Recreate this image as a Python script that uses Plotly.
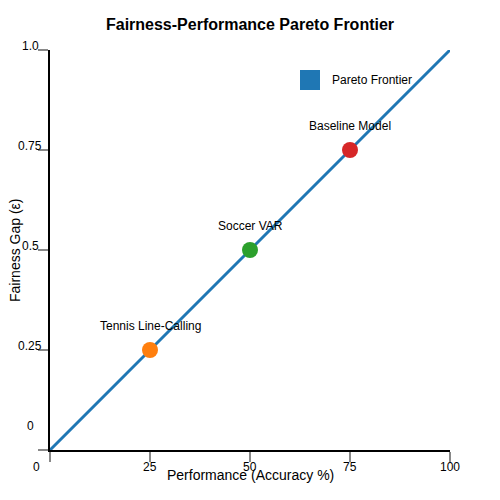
import plotly.graph_objects as go

# frontier line
frontier_x = [0, 25, 50, 75, 100]
frontier_y = [0, 0.25, 0.5, 0.75, 1.0]

# highlighted models
point_names = ["Tennis Line-Calling", "Soccer VAR", "Baseline Model"]
point_x = [25, 50, 75]
point_y = [0.25, 0.5, 0.75]
point_colors = ["#ff7f0e", "#2ca02c", "#d62728"]

x_ticks = [0, 25, 50, 75, 100]
x_tick_text = ["0", "25", "50", "75", "100"]
y_ticks = [0, 0.25, 0.5, 0.75, 1.0]
y_tick_text = ["0", "0.25", "0.5", "0.75", "1.0"]

FONT = "Liberation Sans, Arial, sans-serif"

# the page body has an 8px margin, so the figure is drawn 8px smaller
W = H = 492

fig = go.Figure()

fig.add_trace(go.Scatter(
    x=frontier_x, y=frontier_y,
    mode="lines",
    line=dict(color="#1f77b4", width=3),
    name="Pareto Frontier",
    showlegend=False,
    cliponaxis=False,
))

fig.add_trace(go.Scatter(
    x=point_x, y=point_y,
    mode="markers",
    marker=dict(color=point_colors, size=16),
    showlegend=False,
    cliponaxis=False,
))

annotations = []
# point labels
for name, px_, py_ in zip(point_names, point_x, point_y):
    annotations.append(dict(x=px_, y=py_, xref="x", yref="y", text=name,
                            showarrow=False, yshift=24,
                            font=dict(size=12, color="#000")))

# x tick labels (the "0" one sits a bit to the left)
for v, t in zip(x_ticks, x_tick_text):
    annotations.append(dict(x=v, y=0, xref="x", yref="paper", text=t,
                            showarrow=False, yanchor="top", yshift=-8,
                            xshift=-14 if v == 0 else 0,
                            font=dict(size=12, color="#000")))

# y tick labels (sitting on top of the tick; "0" floats higher)
for v, t in zip(y_ticks, y_tick_text):
    annotations.append(dict(x=0, y=v, xref="paper", yref="y", text=t,
                            showarrow=False, xanchor="center", xshift=-20,
                            yanchor="bottom", yshift=15 if v == 0 else -5,
                            font=dict(size=12, color="#000")))

# axis titles
annotations.append(dict(x=0.5, y=-0.0625, xref="paper", yref="paper",
                        text="Performance (Accuracy %)", showarrow=False,
                        xanchor="center", yanchor="middle",
                        font=dict(size=14, color="#000")))
annotations.append(dict(x=-0.0875, y=0.5, xref="paper", yref="paper",
                        text="Fairness Gap (ε)", showarrow=False, textangle=-90,
                        xanchor="center", yanchor="middle",
                        font=dict(size=14, color="#000")))

# legend
annotations.append(dict(x=0.7, y=0.925, xref="paper", yref="paper",
                        text="Pareto Frontier", showarrow=False,
                        xanchor="left", yanchor="middle",
                        font=dict(size=12, color="#000")))

fig.update_layout(
    width=W, height=H,
    margin=dict(l=42, r=50, t=42, b=50),
    paper_bgcolor="white", plot_bgcolor="white",
    font=dict(family=FONT, color="#000"),
    title=dict(text="<b>Fairness-Performance Pareto Frontier</b>",
               x=0.5, xanchor="center", xref="paper",
               y=1 - 16 / H, yref="container", yanchor="middle",
               font=dict(size=16, color="#000")),
    xaxis=dict(range=[0, 100], showgrid=False, zeroline=False,
               showline=True, linecolor="black", linewidth=2,
               ticks="outside", tickvals=x_ticks, ticklen=10,
               tickwidth=2, tickcolor="#888", showticklabels=False),
    yaxis=dict(range=[0, 1], showgrid=False, zeroline=False,
               showline=True, linecolor="black", linewidth=2,
               ticks="outside", tickvals=y_ticks, ticklen=10,
               tickwidth=2, tickcolor="#888", showticklabels=False),
    annotations=annotations,
    shapes=[dict(type="rect", xref="paper", yref="paper",
                 x0=0.625, x1=0.675, y0=0.9, y1=0.95,
                 fillcolor="#1f77b4", line=dict(width=0))],
    showlegend=False,
)

fig.write_html("out.html")
